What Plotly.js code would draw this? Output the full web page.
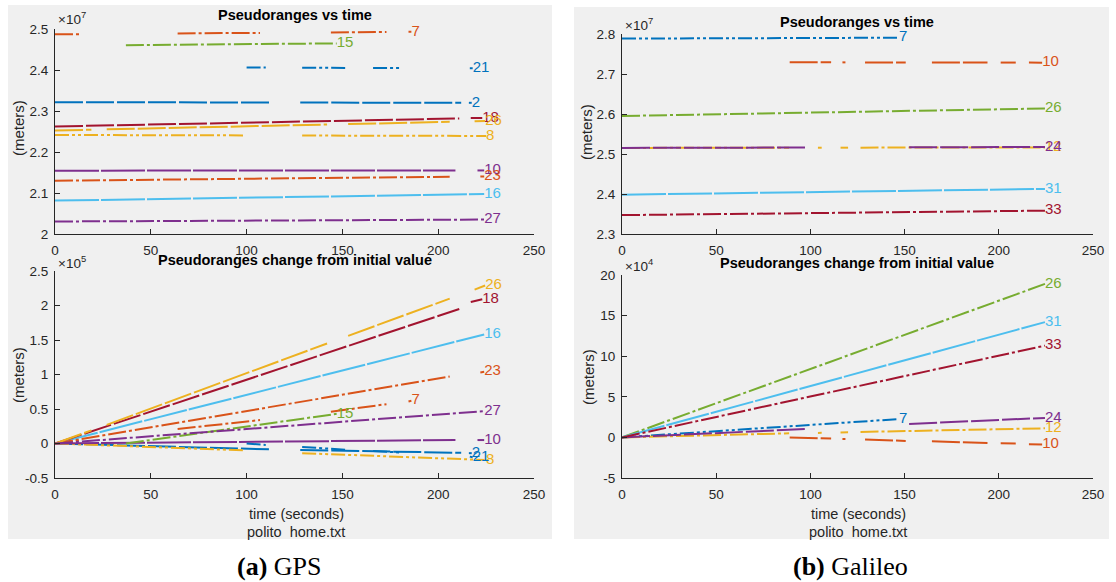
<!DOCTYPE html>
<html>
<head>
<meta charset="utf-8">
<script src="https://cdn.plot.ly/plotly-3.0.1.min.js"></script>
<style>html,body{margin:0;padding:0;background:#fff;}#chart{width:1116px;height:582px;}</style>
</head>
<body>
<div id="chart"></div>
<script>
// ---------------- DATA ----------------
// time axis ticks
const timeTicks = [0, 50, 100, 150, 200, 250];
const timeTickText = ['0', '50', '100', '150', '200', '250'];

// GPS pseudoranges (x1e7 m) and change (x1e5 m); null = data gap
const gpsPRN = ['2', '7', '8', '10', '15', '16', '18', '21', '23', '26', '27'];
const gpsT_2  = [0, 112, null, 128, 212, null, 216, 217.5];
const gpsR_2  = [2.3215, 2.3207, null, 2.3206, 2.3201, null, 2.3200, 2.3200];
const gpsD_2  = [0, -0.085, null, -0.095, -0.135, null, -0.14, -0.14];
const gpsT_7  = [0, 14, null, 64, 107, null, 144, 173, null, 184.5, 186];
const gpsR_7  = [2.4872, 2.4873, null, 2.4893, 2.4905, null, 2.4917, 2.4928, null, 2.4932, 2.4933];
const gpsD_7  = [0, 0.05, null, 0.21, 0.34, null, 0.46, 0.57, null, 0.61, 0.62];
const gpsT_8  = [0, 99, null, 129, 225];
const gpsR_8  = [2.2415, 2.2405, null, 2.2401, 2.2392];
const gpsD_8  = [0, -0.1, null, -0.14, -0.24];
const gpsT_10 = [0, 209, null, 220.5, 224];
const gpsR_10 = [2.1545, 2.1550, null, 2.1550, 2.1550];
const gpsD_10 = [0, 0.05, null, 0.05, 0.05];
const gpsT_15 = [37, 147];
const gpsR_15 = [2.4606, 2.4649];
const gpsD_15 = [0, 0.43];
const gpsT_16 = [0, 224];
const gpsR_16 = [2.0815, 2.0973];
const gpsD_16 = [0, 1.58];
const gpsT_18 = [0, 211, null, 217, 223];
const gpsR_18 = [2.2623, 2.2818, null, 2.2828, 2.2832];
const gpsD_18 = [0, 1.95, null, 2.05, 2.09];
const gpsT_21 = [100, 110, null, 129, 152, null, 166, 180, null, 216.5, 218];
const gpsR_21 = [2.4060, 2.4058, null, 2.4055, 2.4051, null, 2.4049, 2.4047, null, 2.4041, 2.4040];
const gpsD_21 = [0, -0.02, null, -0.05, -0.09, null, -0.11, -0.13, null, -0.19, -0.2];
const gpsT_23 = [0, 206, null, 222, 224];
const gpsR_23 = [2.1300, 2.1397, null, 2.1402, 2.1403];
const gpsD_23 = [0, 0.97, null, 1.03, 1.04];
const gpsT_26 = [0, 19, null, 27, 142, null, 153, 206, null, 219, 224.5];
const gpsR_26 = [2.2525, 2.2544, null, 2.2553, 2.2670, null, 2.2681, 2.2735, null, 2.2748, 2.2754];
const gpsD_26 = [0, 0.19, null, 0.27, 1.45, null, 1.56, 2.1, null, 2.23, 2.29];
const gpsT_27 = [0, 224];
const gpsR_27 = [2.0305, 2.0352];
const gpsD_27 = [0, 0.47];

// Galileo pseudoranges (x1e7 m) and change (x1e4 m)
const galPRN = ['7', '10', '12', '24', '26', '31', '33'];
const galT_7  = [0, 147];
const galR_7  = [2.7885, 2.7907];
const galD_7  = [0, 2.26];
const galT_10 = [89, 111, null, 117, 118.6, null, 129, 150.6, null, 164.5, 194, null, 201, 209, null, 216, 223];
const galR_10 = [2.7293, 2.7291, null, 2.7291, 2.7291, null, 2.7290, 2.7289, null, 2.7288, 2.7286, null, 2.7286, 2.7286, null, 2.7285, 2.7284];
const galD_10 = [0, -0.15, null, -0.2, -0.2, null, -0.27, -0.43, null, -0.48, -0.7, null, -0.72, -0.74, null, -0.85, -0.88];
const galT_12 = [0, 88.7, null, 104, 106, null, 116, 120, null, 126.6, 224.5];
const galR_12 = [2.5152, 2.5157, null, 2.5157, 2.5157, null, 2.5158, 2.5158, null, 2.5159, 2.5164];
const galD_12 = [0, 0.5, null, 0.55, 0.56, null, 0.6, 0.62, null, 0.67, 1.12];
const galT_24 = [0, 98, null, 152.4, 224.5];
const galR_24 = [2.5152, 2.5162, null, 2.5168, 2.5176];
const galD_24 = [0, 1.04, null, 1.65, 2.4];
const galT_26 = [0, 224.5];
const galR_26 = [2.5951, 2.6138];
const galD_26 = [0, 18.9];
const galT_31 = [0, 224.5];
const galR_31 = [2.3984, 2.4126];
const galD_31 = [0, 14.2];
const galT_33 = [0, 224.5];
const galR_33 = [2.3472, 2.3584];
const galD_33 = [0, 11.3];

// y tick values / labels
const gpsRangeTicks = [2, 2.1, 2.2, 2.3, 2.4, 2.5];
const gpsRangeTickText = ['2', '2.1', '2.2', '2.3', '2.4', '2.5'];
const gpsDeltaTicks = [-0.5, 0, 0.5, 1, 1.5, 2, 2.5];
const gpsDeltaTickText = ['-0.5', '0', '0.5', '1', '1.5', '2', '2.5'];
const galRangeTicks = [2.3, 2.4, 2.5, 2.6, 2.7, 2.8];
const galRangeTickText = ['2.3', '2.4', '2.5', '2.6', '2.7', '2.8'];
const galDeltaTicks = [-5, 0, 5, 10, 15, 20];
const galDeltaTickText = ['-5', '0', '5', '10', '15', '20'];

// ---------------- STYLE ----------------
const C = {blue:'#0072BD', orange:'#D95319', yellow:'#EDB120', purple:'#7E2F8E', green:'#77AC30', cyan:'#4DBEEE', red:'#A2142F'};
const DA = '28px,3px', DB = '18px,3px,3px,3px', DC = '44px,2px', DD = '14px,3px,3px,3px,3px,3px';

const gpsSeries = [
  [gpsT_2, gpsR_2, gpsD_2, C.blue, DA],
  [gpsT_7, gpsR_7, gpsD_7, C.orange, DB],
  [gpsT_8, gpsR_8, gpsD_8, C.yellow, DD],
  [gpsT_10, gpsR_10, gpsD_10, C.purple, DC],
  [gpsT_15, gpsR_15, gpsD_15, C.green, DB],
  [gpsT_16, gpsR_16, gpsD_16, C.cyan, DC],
  [gpsT_18, gpsR_18, gpsD_18, C.red, DA],
  [gpsT_21, gpsR_21, gpsD_21, C.blue, DD],
  [gpsT_23, gpsR_23, gpsD_23, C.orange, DB],
  [gpsT_26, gpsR_26, gpsD_26, C.yellow, DA],
  [gpsT_27, gpsR_27, gpsD_27, C.purple, DB]
];
const galSeries = [
  [galT_7, galR_7, galD_7, C.blue, DD],
  [galT_10, galR_10, galD_10, C.orange, DA],
  [galT_12, galR_12, galD_12, C.yellow, DB],
  [galT_24, galR_24, galD_24, C.purple, DA],
  [galT_26, galR_26, galD_26, C.green, DB],
  [galT_31, galR_31, galD_31, C.cyan, DC],
  [galT_33, galR_33, galD_33, C.red, DB]
];

const FONT = 'Liberation Sans, Arial, sans-serif';
const DARK = '#262626';
const traces = [];
function lastIdx(a){ for (let i=a.length-1;i>=0;i--) if (a[i]!==null) return i; return -1; }
function addSeries(list, names, xa, yaTop, yaBot) {
  list.forEach((s, i) => {
    const [t, r, d, col, dash] = s;
    [[r, yaTop, xa[0]], [d, yaBot, xa[1]]].forEach(([vals, ya, xax]) => {
      traces.push({x: t, y: vals, xaxis: xax, yaxis: ya, mode: 'lines', connectgaps: false,
        line: {color: col, width: 2, dash: dash}, hoverinfo: 'skip', showlegend: false});
      const li = lastIdx(t);
      traces.push({x: [t[li]], y: [vals[li]], xaxis: xax, yaxis: ya, mode: 'text', text: [names[i]],
        textposition: 'middle right', cliponaxis: false,
        textfont: {color: col, size: 15, family: FONT},
        hoverinfo: 'skip', showlegend: false});
    });
  });
}
addSeries(gpsSeries, gpsPRN, ['x', 'x2'], 'y', 'y2');
addSeries(galSeries, galPRN, ['x3', 'x4'], 'y3', 'y4');

const W = 1116, H = 582;
const px = v => v / W, py = v => 1 - v / H;

function xAx(d0, d1, anchor) {
  return {domain: [px(d0), px(d1)], anchor: anchor, range: [0, 250], tickvals: timeTicks, ticktext: timeTickText,
    ticks: 'inside', ticklen: 5, tickcolor: DARK, showline: true, linecolor: DARK, linewidth: 1, mirror: false,
    showgrid: false, zeroline: false, ticklabelstandoff: 4, tickfont: {size: 13.5, color: DARK, family: FONT}, fixedrange: true};
}
function yAx(t, b, anchor, range, tv, tt) {
  return {domain: [py(b), py(t)], anchor: anchor, range: range, tickvals: tv, ticktext: tt,
    ticks: 'inside', ticklen: 5, tickcolor: DARK, showline: true, linecolor: DARK, linewidth: 1, mirror: false,
    showgrid: false, zeroline: false, ticklabelstandoff: 3, tickfont: {size: 13.5, color: DARK, family: FONT}, fixedrange: true};
}

function ann(text, x, y, opts) {
  return Object.assign({text: text, x: px(x), y: py(y), xref: 'paper', yref: 'paper', showarrow: false,
    xanchor: 'center', yanchor: 'middle', font: {size: 14.5, color: DARK, family: FONT}}, opts || {});
}
const TF = {size: 14.5, color: '#000', family: FONT};
const CF = {size: 26, color: '#000', family: 'Liberation Serif, Times New Roman, serif'};
const EF = {size: 13.5, color: DARK, family: FONT};

const layout = {
  width: W, height: H, margin: {l: 0, r: 0, t: 0, b: 0},
  paper_bgcolor: '#ffffff', plot_bgcolor: '#ffffff', showlegend: false,
  xaxis: xAx(55, 534, 'y'),
  yaxis: yAx(29, 234, 'x', [2, 2.5], gpsRangeTicks, gpsRangeTickText),
  xaxis2: xAx(55, 534, 'y2'),
  yaxis2: yAx(271, 478, 'x2', [-0.5, 2.5], gpsDeltaTicks, gpsDeltaTickText),
  xaxis3: xAx(622, 1093, 'y3'),
  yaxis3: yAx(34, 234, 'x3', [2.3, 2.8], galRangeTicks, galRangeTickText),
  xaxis4: xAx(622, 1093, 'y4'),
  yaxis4: yAx(275, 478, 'x4', [-5, 20], galDeltaTicks, galDeltaTickText),
  shapes: [
    {type: 'rect', xref: 'paper', yref: 'paper', x0: px(8), x1: px(552), y0: py(539), y1: py(5), fillcolor: '#f0f0f0', line: {width: 0}, layer: 'below'},
    {type: 'rect', xref: 'paper', yref: 'paper', x0: px(574), x1: px(1109), y0: py(539), y1: py(7), fillcolor: '#f0f0f0', line: {width: 0}, layer: 'below'}
  ],
  annotations: [
    ann('<b>Pseudoranges vs time</b>', 295, 15, {font: TF}),
    ann('<b>Pseudoranges change from initial value</b>', 295, 260, {font: TF}),
    ann('<b>Pseudoranges vs time</b>', 857, 22, {font: TF}),
    ann('<b>Pseudoranges change from initial value</b>', 857, 263, {font: TF}),
    ann('×10<sup>7</sup>', 56, 18, {xanchor: 'left', font: EF}),
    ann('×10<sup>5</sup>', 56, 262, {xanchor: 'left', font: EF}),
    ann('×10<sup>7</sup>', 623, 24, {xanchor: 'left', font: EF}),
    ann('×10<sup>4</sup>', 623, 265, {xanchor: 'left', font: EF}),
    ann('(meters)', 18, 128, {textangle: -90, font: {size: 15, color: DARK, family: FONT}}),
    ann('(meters)', 18, 375, {textangle: -90, font: {size: 15, color: DARK, family: FONT}}),
    ann('(meters)', 587, 132, {textangle: -90, font: {size: 15, color: DARK, family: FONT}}),
    ann('(meters)', 588, 377, {textangle: -90, font: {size: 15, color: DARK, family: FONT}}),
    ann('time (seconds)', 296, 514),
    ann('polito\u00a0\u00a0home.txt', 296, 532),
    ann('time (seconds)', 858, 514),
    ann('polito\u00a0\u00a0home.txt', 858, 532),
    ann('<b>(a)</b> GPS', 279, 566, {font: CF}),
    ann('<b>(b)</b> Galileo', 850, 566, {font: CF})
  ]
};

Plotly.newPlot('chart', traces, layout, {displayModeBar: false, staticPlot: true});
</script>
</body>
</html>
